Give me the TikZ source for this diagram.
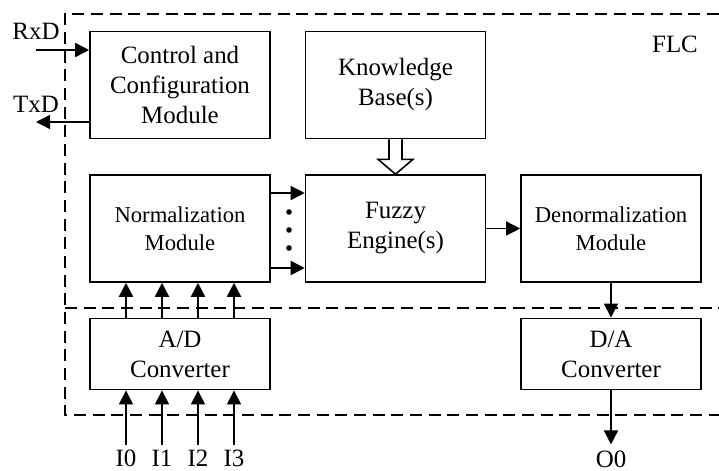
\documentclass[tikz,border=0pt]{standalone}
\usepackage{fontspec}
\setmainfont{Liberation Serif}
\usetikzlibrary{arrows.meta,calc}
\begin{document}
\begin{tikzpicture}[x=0.75pt,y=-0.75pt,
  box/.style={draw,line width=1.2pt,minimum width=135pt,minimum height=80.25pt,align=center,inner sep=0pt,font=\fontsize{18.7}{22.5}\selectfont},
  smalltext/.style={font=\fontsize{17}{21}\selectfont},
  shortbox/.style={minimum height=53.5pt},
  arr/.style={line width=1.2pt,-{Triangle[length=10.5pt,width=10.5pt]}},
  flcline/.style={line width=1.2pt,dash pattern=on 9pt off 5pt},
  lbl/.style={inner sep=0pt,font=\fontsize{18.7}{22.5}\selectfont},
]
\useasboundingbox (0,0) rectangle (719,471);

% FLC boundary
\coordinate (tl) at (65,14);
\coordinate (bl) at (65,415);
\coordinate (tr) at (719,14);
\coordinate (br) at (719,415);
\coordinate (ml) at (65,308);
\coordinate (mr) at (719,308);
\draw[flcline] (tr) -- (tl) -- (bl) -- (br);
\draw[flcline] (ml) -- (mr);

% boxes
\node[box] (cc) at (180,85) {Control and\\Configuration\\Module};
\node[box] (kb) at (395.5,85) {Knowledge\\Base(s)};
\node[box,smalltext] (nm) at (180,228.5) {Normalization\\Module};
\node[box] (fe) at (395.5,228.5) {Fuzzy\\Engine(s)};
\node[box,smalltext] (dn) at (611,228.5) {Denormalization\\Module};
\node[box,shortbox] (ad) at (180,354) {A/D\\Converter};
\node[box,shortbox] (da) at (611,354) {D/A\\Converter};

\node[lbl,anchor=base] (flc) at (675,52) {FLC};

% RxD / TxD
\coordinate (rx) at (36,50);
\coordinate (tx) at (36,122);
\draw[arr] (rx) -- (rx -| cc.west);
\draw[arr] (tx -| cc.west) -- (tx);
\node[lbl,anchor=base] (rxl) at (36,40) {RxD};
\node[lbl,anchor=base] (txl) at (36,112) {TxD};

% knowledge -> fuzzy hollow arrow
\draw[line width=1.2pt,fill=white,line join=miter]
  ($(kb.south)+(-6.5,0)$) -- ++(0,20) -- ++(-11,0) -- (fe.north)
  -- ($(kb.south)+(17.5,20)$) -- ++(-11,0) -- ($(kb.south)+(6.5,0)$);

% normalization -> fuzzy
\coordinate (a1) at (270,193);
\coordinate (a2) at (270,268);
\draw[arr] (a1 -| nm.east) -- (a1 -| fe.west);
\draw[arr] (a2 -| nm.east) -- (a2 -| fe.west);
\foreach \yy in {212,230,248} \fill (289,\yy) circle[radius=2.1pt];

% fuzzy -> denormalization
\draw[arr] (fe.east) -- (dn.west);

% A/D inputs and outputs
\foreach \dx/\n in {-54/0,-18/1,18/2,54/3}{
  \coordinate (in\n) at ($(ad.south)+(\dx,55)$);
  \draw[arr] (in\n) -- (in\n |- ad.south);
  \draw[arr] (in\n |- ad.north) -- (in\n |- nm.south);
  \node[lbl,anchor=base] (il\n) at ($(in\n)+(0,21)$) {I\n};
}

% D/A
\draw[arr] (dn.south) -- (da.north);
\coordinate (o0) at ($(da.south)+(0,54)$);
\draw[arr] (da.south) -- (o0);
\node[lbl,anchor=base] (o0l) at ($(o0)+(0,23)$) {O0};
\end{tikzpicture}
\end{document}
